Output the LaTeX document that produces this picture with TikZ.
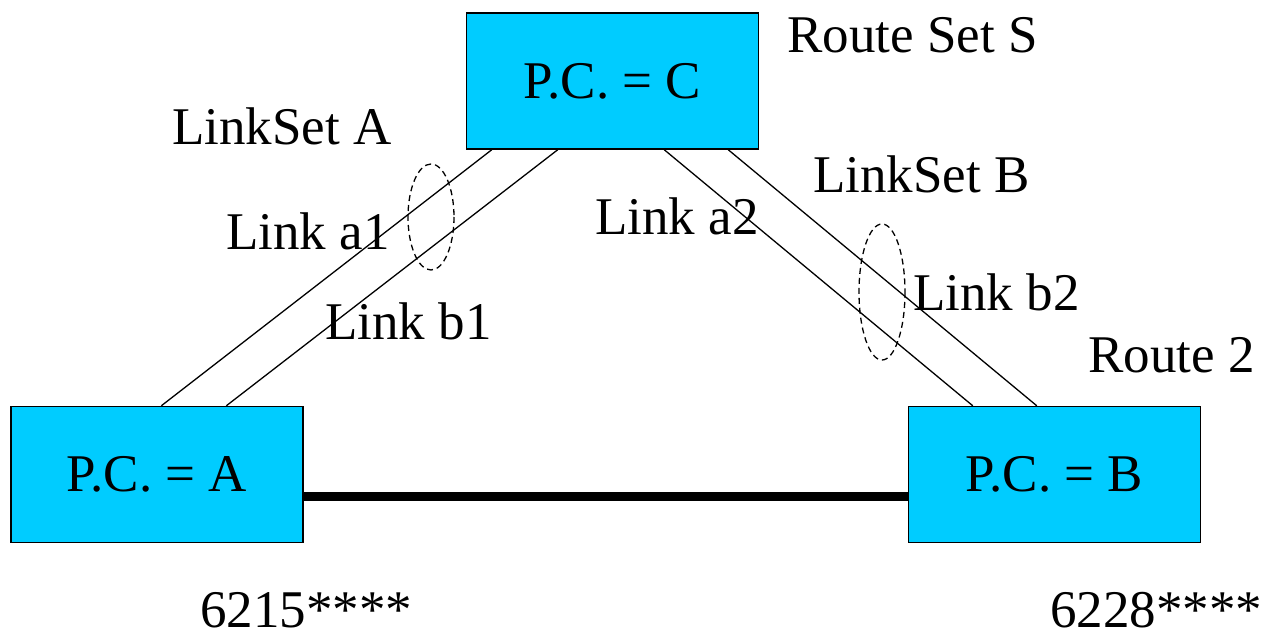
\documentclass[tikz,border=0pt]{standalone}
\usepackage{fontspec}
\setmainfont{Liberation Serif}
\usetikzlibrary{calc}
\definecolor{pcblue}{RGB}{0,204,255}
\begin{document}
\begin{tikzpicture}[x=1pt,y=-1pt,
  pcbox/.style={draw=black,line width=1.4pt,fill=pcblue,rectangle,inner sep=0pt,
    minimum width=292pt,minimum height=136pt,font=\fontsize{53}{60}\selectfont},
  lbl/.style={inner sep=0pt,anchor=base west,font=\fontsize{53}{60}\selectfont},
  link/.style={line width=1.3pt},
  trunk/.style={line width=8.5pt},
  grp/.style={line width=1.3pt,dash pattern=on 6pt off 4pt}]
\useasboundingbox (0,0) rectangle (1262,631);

% signalling points
\node[pcbox] (C) at (612.5,81) {P.C. = C};
\node[pcbox] (A) at (157,474.5) {P.C. = A};
\node[pcbox] (B) at (1054.5,474.5) {P.C. = B};

% link set A (C -- A)
\draw[link] ($(C.south west)+(26,0)$) -- ($(A.north west)+(151,0)$);
\draw[link] ($(C.south west)+(92,0)$) -- ($(A.north west)+(216,0)$);
% link set B (C -- B)
\draw[link] ($(C.south east)+(-95,0)$) -- ($(B.north west)+(65,0)$);
\draw[link] ($(C.south east)+(-31,0)$) -- ($(B.north west)+(129,0)$);
% direct route A -- B
\draw[trunk] ($(A.east)+(0,22)$) -- ($(B.west)+(0,22)$);

% link set groupings
\draw[grp] (431,217) ellipse [x radius=23, y radius=53];
\draw[grp] (882,292) ellipse [x radius=23, y radius=68];

% labels
\node[lbl] (rs) at (787,53) {Route Set S};
\node[lbl] (lsa) at (172,145) {LinkSet A};
\node[lbl] (la1) at (226,250) {Link a1};
\node[lbl] (lb1) at (325,340) {Link b1};
\node[lbl] (la2) at (595,235) {Link a2};
\node[lbl] (lsb) at (813,193) {LinkSet B};
\node[lbl] (lb2) at (913,311) {Link b2};
\node[lbl] (r2) at (1088,372) {Route 2};
\node[lbl] (na) at (200,627) {6215****};
\node[lbl] (nb) at (1050,627) {6228****};
\end{tikzpicture}
\end{document}
